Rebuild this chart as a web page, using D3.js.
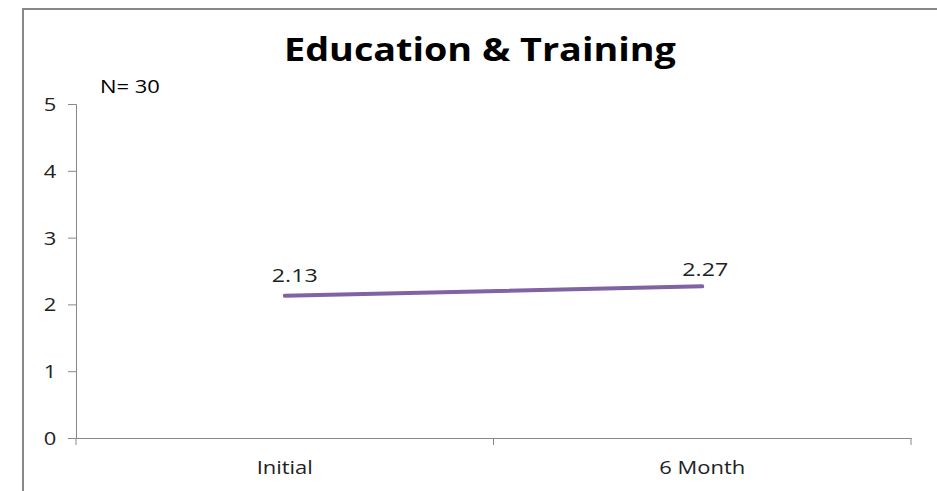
<!DOCTYPE html>
<html>
<head>
<meta charset="utf-8">
<script src="https://d3js.org/d3.v7.min.js"></script>
<style>
  body { margin: 0; background: #fff; }
  svg text { font-family: "Open Sans", sans-serif; fill: #222; }
  /* the original picture is a little stretched sideways */
  .wide { transform-box: fill-box; transform: scaleX(1.22); transform-origin: center; }
  .wide-l { transform-origin: left center; }
</style>
</head>
<body>
<div id="chart"></div>
<script>
const categories = ["Initial", "6 Month"];
const scores = [2.13, 2.27];
const yTicks = [0, 1, 2, 3, 4, 5];
const chartTitle = "Education & Training";
const note = "N= 30";

const width = 937;
const height = 491;
const plot = { left: 76, right: 911, top: 104, bottom: 438 };

const svg = d3.select("#chart").append("svg")
    .attr("width", width)
    .attr("height", height);

// outer frame, cut off at the right and bottom like the original
svg.append("path")
    .attr("d", `M23,${height + 5} V9 H${width + 5}`)
    .attr("fill", "none")
    .attr("stroke", "#888")
    .attr("stroke-width", 2);

const xScale = d3.scaleBand()
    .domain(categories)
    .range([plot.left, plot.right]);

const yScale = d3.scaleLinear()
    .domain([0, 5])
    .range([plot.bottom, plot.top]);

// y axis
const yAxis = svg.append("g")
    .attr("transform", `translate(${plot.left},0)`)
    .call(d3.axisLeft(yScale).tickValues(yTicks).tickFormat(d3.format("d")).tickSize(8).tickPadding(23));
yAxis.selectAll("line, path").attr("stroke", "#888");
yAxis.selectAll("text")
    .attr("class", "wide")
    .style("font-size", "18px")
    .attr("text-anchor", "start")
    .attr("dy", "0.36em");

// x axis with ticks on category boundaries
const xAxis = svg.append("g")
    .attr("transform", `translate(0,${plot.bottom})`)
    .call(d3.axisBottom(xScale).tickSize(0).tickPadding(23));
xAxis.select("path").attr("stroke", "#888");
xAxis.selectAll("text").attr("class", "wide").style("font-size", "18px");
const bounds = categories.map(c => xScale(c)).concat([plot.right]);
xAxis.selectAll(".bound")
    .data(bounds)
    .enter()
    .append("line")
    .attr("class", "bound")
    .attr("x1", d => d)
    .attr("x2", d => d)
    .attr("y1", 0)
    .attr("y2", 7)
    .attr("stroke", "#888");

const cx = c => xScale(c) + xScale.bandwidth() / 2;

const line = d3.line()
    .x((d, i) => cx(categories[i]))
    .y(d => yScale(d));

svg.append("path")
    .datum(scores)
    .attr("d", line)
    .attr("fill", "none")
    .attr("stroke", "#7f63a2")
    .attr("stroke-width", 4)
    .attr("stroke-linecap", "round");

// labels sit a little right of the point, less so for the last one
const labelShift = [10, 3];
svg.selectAll(".value")
    .data(scores)
    .enter()
    .append("text")
    .attr("class", "value wide")
    .attr("x", (d, i) => cx(categories[i]) + labelShift[i])
    .attr("y", (d, i) => yScale(d) - (i === 0 ? 14 : 10))
    .attr("text-anchor", "middle")
    .style("font-size", "19px")
    .text(d => d.toFixed(2));

svg.append("text")
    .attr("class", "wide")
    .attr("x", 480)
    .attr("y", 61)
    .attr("text-anchor", "middle")
    .style("font-size", "32px")
    .style("font-weight", "bold")
    .style("fill", "#000")
    .style("transform", "scaleX(1.18)")
    .text(chartTitle);

svg.append("text")
    .attr("class", "wide wide-l")
    .attr("x", 100)
    .attr("y", 93)
    .style("font-size", "18px")
    .style("fill", "#000")
    .text(note);
</script>
</body>
</html>
